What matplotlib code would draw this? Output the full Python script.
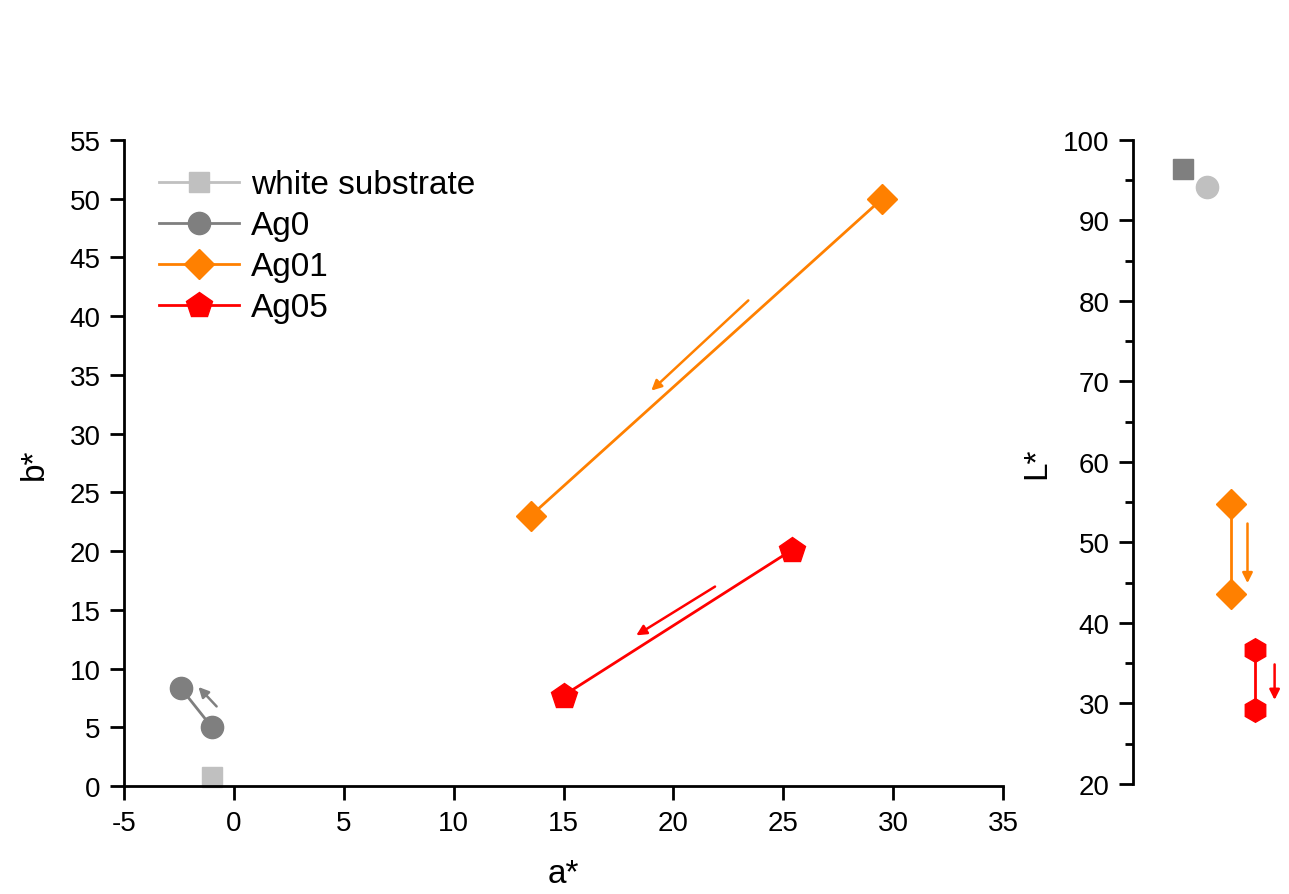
import matplotlib.pyplot as plt

plt.rcParams['font.family'] = ['Liberation Sans', 'DejaVu Sans']
plt.rcParams['axes.unicode_minus'] = False

# a*, b* values
white_a = [-1.0]
white_b = [0.8]
ag0_a = [-2.4, -1.0]
ag0_b = [8.3, 5.0]
ag01_a = [13.5, 29.5]
ag01_b = [23.0, 50.0]
ag05_a = [15.0, 25.4]
ag05_b = [7.7, 20.1]

# L* values (right panel)
white_L = [96.4]
ag0_L = [94.2]
ag01_L = [54.8, 43.6]
ag05_L = [36.6, 29.2]

# arrows (start, end) in data units
arrows_ab = [((-0.7, 6.6), (-1.7, 8.6), '#808080'),
             ((23.5, 41.5), (18.9, 33.5), '#ff8000'),
             ((22.0, 17.1), (18.2, 12.7), '#ff0000')]
arrows_L = [((2.67, 52.7), (2.67, 44.6), '#ff8000'),
            ((3.8, 35.2), (3.8, 30.1), '#ff0000')]

c_light = '#c0c0c0'
c_gray = '#7f7f7f'
c_orange = '#ff8000'
c_red = '#ff0000'

fig = plt.figure(figsize=(12.89, 8.95), dpi=100)
ax = fig.add_axes([0.0962, 0.1207, 0.6820, 0.7218])
ax2 = fig.add_axes([0.879, 0.1229, 0.121, 0.7196])

ax.plot(white_a, white_b, '-s', color=c_light, lw=2, ms=14, label='white substrate')
ax.plot(ag0_a, ag0_b, '-o', color=c_gray, lw=2, ms=16, label='Ag0')
ax.plot(ag01_a, ag01_b, '-D', color=c_orange, lw=2, ms=15, label='Ag01')
ax.plot(ag05_a, ag05_b, '-p', color=c_red, lw=2, ms=19, label='Ag05')

for (s, e, c) in arrows_ab:
    ax.annotate('', xy=e, xytext=s,
                arrowprops=dict(arrowstyle='-|>', color=c, lw=1.8, mutation_scale=15))

ax.set_xlim(-5, 35)
ax.set_ylim(0, 55)
ax.set_xticks(range(-5, 36, 5))
ax.set_yticks(range(0, 56, 5))
for sp in ['top', 'right']:
    ax.spines[sp].set_visible(False)
for sp in ['left', 'bottom']:
    ax.spines[sp].set_linewidth(2)
ax.tick_params(direction='out', length=10, width=2, labelsize=20, pad=7)
ax.set_xlabel('a*', fontsize=24, labelpad=16)
ax.set_ylabel('b*', fontsize=24, labelpad=14)
for l in ax.lines:
    l.set_clip_on(False)

leg = ax.legend(loc='upper left', bbox_to_anchor=(0.025, 0.975), frameon=False,
                fontsize=24, handlelength=2.4, handletextpad=0.35,
                labelspacing=0.3, borderaxespad=0.0)

# right panel: L*
ax2.plot([0], white_L, 's', color=c_gray, ms=14)
ax2.plot([1], ag0_L, 'o', color=c_light, ms=16)
ax2.plot([2, 2], ag01_L, '-D', color=c_orange, lw=2, ms=15)
ax2.plot([3, 3], ag05_L, '-h', color=c_red, lw=2, ms=17)
for (s, e, c) in arrows_L:
    ax2.annotate('', xy=e, xytext=s,
                 arrowprops=dict(arrowstyle='-|>', color=c, lw=1.8, mutation_scale=15))
for l in ax2.lines:
    l.set_clip_on(False)

ax2.set_xlim(-2.1, 4.4)
ax2.set_ylim(20, 100)
ax2.set_yticks(range(20, 101, 10))
ax2.set_yticks(range(25, 100, 10), minor=True)
ax2.set_xticks([])
for sp in ['top', 'right', 'bottom']:
    ax2.spines[sp].set_visible(False)
ax2.spines['left'].set_linewidth(2)
ax2.tick_params(axis='y', which='major', direction='out', length=10, width=2, labelsize=20, pad=7)
ax2.tick_params(axis='y', which='minor', direction='out', length=6, width=2)
ax2.set_ylabel('L*', fontsize=24, labelpad=8)

fig.savefig('out.png', dpi=100, facecolor='white')
